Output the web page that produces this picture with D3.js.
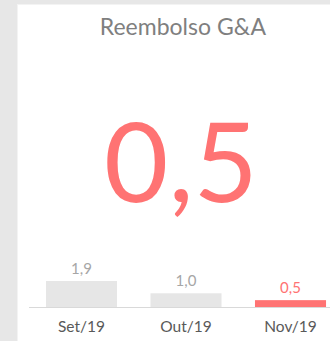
<!DOCTYPE html>
<html>
<head>
<meta charset="utf-8">
<script src="https://cdn.jsdelivr.net/npm/d3@7"></script>
<style>
  html, body { margin: 0; padding: 0; background: #e7e7e7; }
  svg { display: block; }
</style>
</head>
<body>
<svg id="card" width="330" height="341"></svg>
<script>
// KPI card: headline value plus a small monthly bar history
const title = "Reembolso G&A";
const months = ["Set/19", "Out/19", "Nov/19"];
const values = [1.9, 1.0, 0.5];
const valueLabels = ["1,9", "1,0", "0,5"];
const headline = "0,5";

const W = 330, H = 341;
const font = "Lato, 'Open Sans', sans-serif";
const red = "#ff7373";
const barGray = "#e6e6e6";

const svg = d3.select("#card");

// card background
svg.append("rect").attr("x", 0).attr("y", 0).attr("width", W).attr("height", H).attr("fill", "#e7e7e7");
svg.append("rect").attr("x", 17).attr("y", 4).attr("width", W - 17).attr("height", H - 4).attr("fill", "#f3f3f3");
svg.append("rect").attr("x", 18).attr("y", 5).attr("width", W - 18).attr("height", H - 5).attr("fill", "#ffffff");

// title
svg.append("text")
  .attr("x", 183).attr("y", 35)
  .attr("text-anchor", "middle")
  .attr("font-family", font)
  .attr("font-size", 23)
  .attr("fill", "#7f7f7f")
  .text(title);

// headline value
svg.append("text")
  .attr("x", 181).attr("y", 202)
  .attr("text-anchor", "middle")
  .attr("font-family", font)
  .attr("font-size", 111)
  .attr("fill", red)
  .text(headline);

// bar history
const baseY = 307;
const x = d3.scaleBand().domain(months).range([29.25, 342.75]).paddingInner(0.32).paddingOuter(0.16);
const y = d3.scaleLinear().domain([0, 2]).range([baseY, baseY - 27.4]);

svg.append("line")
  .attr("x1", 29).attr("x2", W)
  .attr("y1", baseY + 0.5).attr("y2", baseY + 0.5)
  .attr("stroke", "#d9d9d9").attr("stroke-width", 1);

const data = months.map((m, i) => ({ m, v: values[i], label: valueLabels[i], last: i === months.length - 1 }));

svg.selectAll("rect.bar").data(data).join("rect")
  .attr("class", "bar")
  .attr("x", d => x(d.m))
  .attr("y", d => y(d.v))
  .attr("width", x.bandwidth())
  .attr("height", d => baseY - y(d.v))
  .attr("fill", d => d.last ? red : barGray);

svg.selectAll("text.val").data(data).join("text")
  .attr("class", "val")
  .attr("x", d => x(d.m) + x.bandwidth() / 2)
  .attr("y", d => y(d.v) - 7)
  .attr("text-anchor", "middle")
  .attr("font-family", font)
  .attr("font-size", 15)
  .attr("fill", d => d.last ? red : "#a6a6a6")
  .text(d => d.label);

svg.selectAll("text.cat").data(data).join("text")
  .attr("class", "cat")
  .attr("x", d => x(d.m) + x.bandwidth() / 2)
  .attr("y", 332)
  .attr("text-anchor", "middle")
  .attr("font-family", font)
  .attr("font-size", 15.5)
  .attr("fill", "#595959")
  .text(d => d.m);
</script>
</body>
</html>
